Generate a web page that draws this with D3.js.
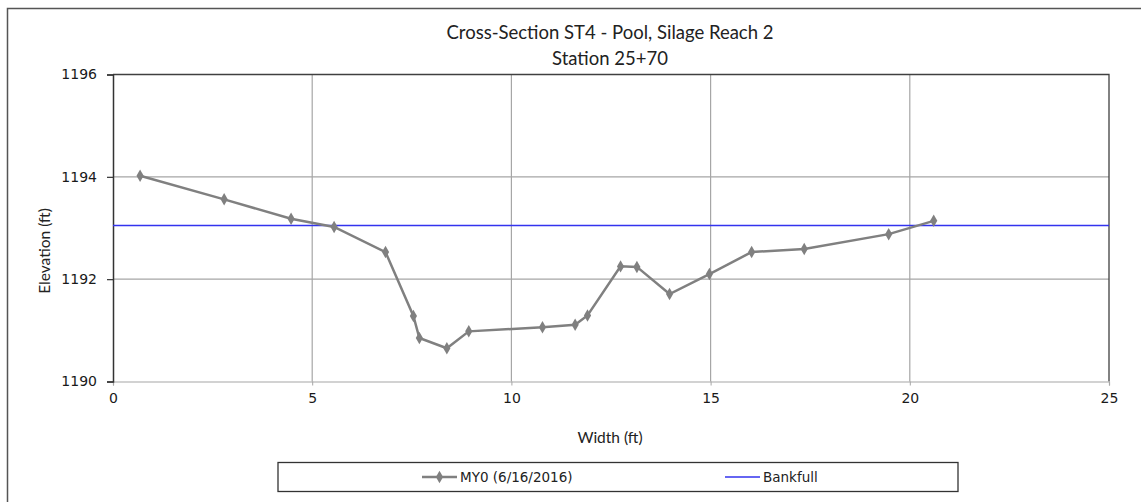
<!DOCTYPE html>
<html>
<head>
<meta charset="utf-8">
<script src="https://cdn.jsdelivr.net/npm/d3@7"></script>
<style>
  body { margin: 0; background: #fff; }
  svg { display: block; }
</style>
</head>
<body>
<div class="container"></div>
<script>
// station widths (ft) and surveyed elevations (ft)
var widths = [0.68, 2.79, 4.47, 5.55, 6.84, 7.54, 7.69, 8.38, 8.93, 10.78,
  11.60, 11.91, 12.74, 13.15, 13.97, 14.97, 16.03, 17.35, 19.47, 20.60];
var elevations = [1194.02, 1193.56, 1193.18, 1193.02, 1192.53, 1191.28, 1190.85, 1190.65, 1190.98, 1191.06,
  1191.11, 1191.29, 1192.25, 1192.24, 1191.71, 1192.10, 1192.53, 1192.59, 1192.88, 1193.14];
var bankfull = 1193.05;
var xTicks = [0, 5, 10, 15, 20, 25];
var yTicks = [1190, 1192, 1194, 1196];
var seriesNames = ["MY0 (6/16/2016)", "Bankfull"];

var W = 1141, H = 502;
var pLeft = 113, pRight = 1109, pTop = 74.5, pBottom = 381.5;

var svg = d3.select(".container").append("svg")
  .attr("width", W).attr("height", H);

// outer chart frame
svg.append("rect")
  .attr("x", 7.5).attr("y", 8.5)
  .attr("width", W + 10).attr("height", H + 10)
  .attr("fill", "none").attr("stroke", "#555").attr("stroke-width", 1.5);

var x = d3.scaleLinear().domain([0, 25]).range([pLeft, pRight]);
var y = d3.scaleLinear().domain([1190, 1196]).range([pBottom, pTop]);

// grid
svg.append("g").selectAll("line").data(xTicks.slice(1, -1)).enter().append("line")
  .attr("x1", d => x(d)).attr("x2", d => x(d))
  .attr("y1", pTop).attr("y2", pBottom)
  .attr("stroke", "#a6a6a6").attr("stroke-width", 1.2);
svg.append("g").selectAll("line").data(yTicks.slice(1, -1)).enter().append("line")
  .attr("x1", pLeft).attr("x2", pRight)
  .attr("y1", d => y(d)).attr("y2", d => y(d))
  .attr("stroke", "#a6a6a6").attr("stroke-width", 1.2);

// top and right border
svg.append("path")
  .attr("d", "M" + pLeft + "," + pTop + "H" + pRight + "V" + pBottom)
  .attr("fill", "none").attr("stroke", "#404040").attr("stroke-width", 1.3);

// x axis
var xAxis = svg.append("g")
  .attr("transform", "translate(0," + pBottom + ")")
  .call(d3.axisBottom(x).tickValues(xTicks).tickSize(4).tickPadding(8).tickFormat(d3.format("d")));
xAxis.select(".domain").attr("stroke", "#a6a6a6").attr("stroke-width", 1.2);
xAxis.selectAll(".tick line").attr("stroke", "#a6a6a6");
xAxis.selectAll("text").attr("font-family", "DejaVu Sans").attr("font-size", 14).attr("fill", "#1a1a1a");

// y axis
var yAxis = svg.append("g")
  .attr("transform", "translate(" + pLeft + ",0)")
  .call(d3.axisLeft(y).tickValues(yTicks).tickSize(6).tickPadding(10).tickFormat(d3.format("d")));
yAxis.select(".domain").attr("stroke", "#333").attr("stroke-width", 1.5);
yAxis.selectAll(".tick line").attr("stroke", "#333").attr("stroke-width", 1.2);
yAxis.selectAll("text").attr("font-family", "DejaVu Sans").attr("font-size", 14).attr("fill", "#1a1a1a");

// bankfull line
svg.append("line")
  .attr("x1", x(0)).attr("x2", x(25))
  .attr("y1", y(bankfull)).attr("y2", y(bankfull))
  .attr("stroke", "#3333ee").attr("stroke-width", 1.5);

// cross-section series
var pts = widths.map((w, i) => [w, elevations[i]]);
svg.append("path")
  .datum(pts)
  .attr("d", d3.line().x(d => x(d[0])).y(d => y(d[1])))
  .attr("fill", "none").attr("stroke", "#808080").attr("stroke-width", 2.5);

var diamond = d3.symbol().type(d3.symbolDiamond).size(45);
svg.append("g").selectAll("path").data(pts).enter().append("path")
  .attr("d", diamond)
  .attr("transform", d => "translate(" + x(d[0]) + "," + y(d[1]) + ")")
  .attr("fill", "#808080");

// titles
var title = svg.append("text")
  .attr("text-anchor", "middle")
  .attr("font-family", "Lato").attr("font-size", 18.5).attr("fill", "#222");
title.append("tspan").attr("x", 610).attr("y", 39).text("Cross-Section ST4 - Pool, Silage Reach 2");
title.append("tspan").attr("x", 610).attr("y", 65).text("Station 25+70");

svg.append("text")
  .attr("x", 610).attr("y", 443)
  .attr("text-anchor", "middle")
  .attr("font-family", "Lato").attr("font-size", 15.5).attr("fill", "#222")
  .text("Width (ft)");

svg.append("text")
  .attr("transform", "translate(50,251) rotate(-90)")
  .attr("text-anchor", "middle")
  .attr("font-family", "Lato").attr("font-size", 15.5).attr("fill", "#222")
  .text("Elevation (ft)");

// legend
svg.append("rect")
  .attr("x", 278).attr("y", 462.5).attr("width", 680).attr("height", 29)
  .attr("fill", "none").attr("stroke", "#333").attr("stroke-width", 1.3);

var lg = svg.append("g");
lg.append("line").attr("x1", 422).attr("x2", 457).attr("y1", 477).attr("y2", 477)
  .attr("stroke", "#808080").attr("stroke-width", 2.5);
lg.append("path").attr("d", diamond).attr("transform", "translate(439.5,477)").attr("fill", "#808080");
lg.append("text").attr("x", 460).attr("y", 482)
  .attr("font-family", "DejaVu Sans").attr("font-size", 13.5).attr("fill", "#222")
  .text(seriesNames[0]);
lg.append("line").attr("x1", 725).attr("x2", 760).attr("y1", 477).attr("y2", 477)
  .attr("stroke", "#3333ee").attr("stroke-width", 1.5);
lg.append("text").attr("x", 763).attr("y", 482)
  .attr("font-family", "DejaVu Sans").attr("font-size", 13.5).attr("fill", "#222")
  .text(seriesNames[1]);
</script>
</body>
</html>
